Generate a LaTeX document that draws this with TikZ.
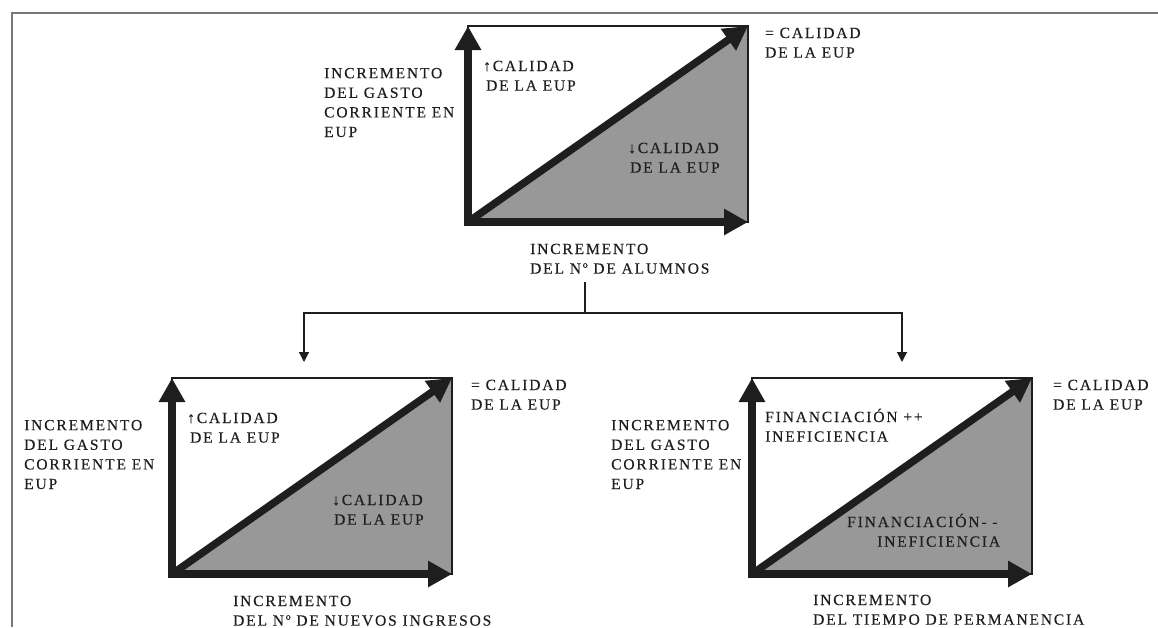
\documentclass[tikz,border=0pt]{standalone}
\usepackage{fontspec}
\setmainfont{Liberation Serif}[LetterSpace=12,FakeBold=0.25]
\usetikzlibrary{arrows.meta}

\definecolor{ink}{RGB}{30,30,30}
\definecolor{shadegray}{RGB}{152,152,152}
\definecolor{framegray}{RGB}{120,120,120}

% one quadrant chart: #1 name, #2 left edge, #3 top edge
\newcommand{\quadchart}[3]{%
  \path (#2+140,#3+98) node[chartbox] (#1) {};
  \fill[shadegray] (#1.south west) -- (#1.south east) -- (#1.north east) -- cycle;
  \draw[chartedge] (#1.south west) rectangle (#1.north east);
  \draw[axis,line cap=rect] (#1.south west) -- (#1.north west);
  \draw[axis,line cap=rect] (#1.south west) -- (#1.south east);
  \draw[axis] (#1.south west) -- (#1.north east);
}

\begin{document}
\begin{tikzpicture}[x=1pt,y=-1pt,
  chartbox/.style={minimum width=280pt,minimum height=196pt,inner sep=0pt,outer sep=0pt},
  chartedge/.style={draw=ink,line width=1.3pt},
  axis/.style={draw=ink,line width=7.5pt,-{Triangle[width=25pt,length=24pt]}},
  % labels are placed by the baseline of their last line
  lbl/.style={anchor=base west,inner sep=0pt,align=left,text=ink,
    font=\fontsize{15.5}{19.6}\selectfont},
  link/.style={draw=ink,line width=1.2pt,-{Triangle[width=10pt,length=10pt]}},
  frameline/.style={draw=framegray,line width=1.6pt}]

\useasboundingbox (0,0) rectangle (1158,627);

% outer frame (top and left edges)
\coordinate (fbl) at (12,627);
\coordinate (ftl) at (12,13);
\coordinate (ftr) at (1158,13);
\draw[frameline] (fbl) -- (ftl) -- (ftr);

% ---- upper chart: students ----
\quadchart{top}{468}{26}
\node[lbl] (topy) at (324,137) {INCREMENTO\\DEL GASTO\\CORRIENTE EN\\EUP};
\node[lbl] (topup) at (483,90.6) {↑CALIDAD\\\hspace*{3pt}DE LA EUP};
\node[lbl] (topdn) at (628,172.6) {↓CALIDAD\\\hspace*{2pt}DE LA EUP};
\node[lbl] (topeq) at (765,57.6) {= CALIDAD\\DE LA EUP};
\node[lbl] (topx) at (530,273.6) {INCREMENTO\\DEL Nº DE ALUMNOS};

% ---- lower left chart: new entrants ----
\quadchart{left}{172}{378}
\node[lbl] (lefty) at (24,489) {INCREMENTO\\DEL GASTO\\CORRIENTE EN\\EUP};
\node[lbl] (leftup) at (187,442.6) {↑CALIDAD\\\hspace*{3pt}DE LA EUP};
\node[lbl] (leftdn) at (332,524.6) {↓CALIDAD\\\hspace*{2pt}DE LA EUP};
\node[lbl] (lefteq) at (471,409.6) {= CALIDAD\\DE LA EUP};
\node[lbl] (leftx) at (233,625.6) {INCREMENTO\\DEL Nº DE NUEVOS INGRESOS};

% ---- lower right chart: time of permanence ----
\quadchart{right}{752}{378}
\node[lbl] (righty) at (611,489) {INCREMENTO\\DEL GASTO\\CORRIENTE EN\\EUP};
\node[lbl] (rightup) at (765,441.6) {FINANCIACIÓN ++\\INEFICIENCIA};
\node[lbl] (rightdn) at (847,546.6) {FINANCIACIÓN- -\\\hspace*{30pt}INEFICIENCIA};
\node[lbl] (righteq) at (1053,409.6) {= CALIDAD\\DE LA EUP};
\node[lbl] (rightx) at (813,624.6) {INCREMENTO\\DEL TIEMPO DE PERMANENCIA};

% ---- branching connector ----
\coordinate (split) at (585,282);
\coordinate (bus) at (585,313);
\coordinate (dropL) at (304,362);
\coordinate (dropR) at (902,362);
\draw[link] (split) -- (bus) -| (dropL);
\draw[link] (bus) -| (dropR);

\end{tikzpicture}
\end{document}
